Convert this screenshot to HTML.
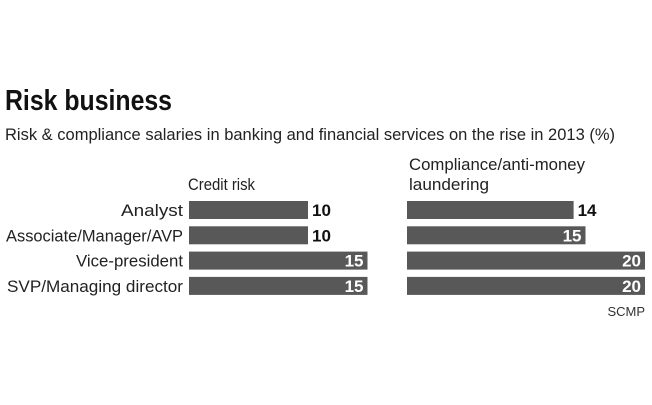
<!DOCTYPE html>
<html><head><meta charset="utf-8"><style>
html,body{margin:0;padding:0;background:#fff;}
svg{display:block;font-family:"Liberation Sans Narrow","Liberation Sans",sans-serif;}
</style></head><body>
<svg id="chart" width="652" height="405" viewBox="0 0 652 405">
<text x="5" y="110" font-size="29" font-weight="bold" fill="#111" textLength="167" lengthAdjust="spacingAndGlyphs">Risk business</text>
<text x="5" y="140" font-size="17" fill="#222" textLength="610" lengthAdjust="spacingAndGlyphs">Risk &amp; compliance salaries in banking and financial services on the rise in 2013 (%)</text>
<text x="188" y="190" font-size="17" fill="#222" textLength="67" lengthAdjust="spacingAndGlyphs">Credit risk</text>
<text x="409" y="170" font-size="17" fill="#222" textLength="176" lengthAdjust="spacingAndGlyphs">Compliance/anti-money</text>
<text x="409" y="190" font-size="17" fill="#222" textLength="80" lengthAdjust="spacingAndGlyphs">laundering</text>
<text x="645" y="316" font-size="13" fill="#333" text-anchor="end">SCMP</text>
<g id="marks"></g>
</svg>
<script>
const categories = ["Analyst", "Associate/Manager/AVP", "Vice-president", "SVP/Managing director"];
const labelWidths = [62, 177, 107, 176];
const creditRisk = [10, 10, 15, 15];
const compliance = [14, 15, 20, 20];
const NS = "http://www.w3.org/2000/svg";
const g = document.getElementById("marks");
const unit = 11.9;
const rowY = i => 201 + i * 25.3;
const barH = 18;
function mk(tag, attrs){ const e = document.createElementNS(NS, tag); for (const k in attrs) e.setAttribute(k, attrs[k]); return e; }
function drawSeries(vals, x0, name){
  vals.forEach((v, i) => {
    const w = v * unit;
    const r = mk("rect", {x: x0, y: rowY(i), width: w, height: barH, fill: "#585858"});
    
    
    g.appendChild(r);
    const inside = v >= 15 && w > 170;
    const t = mk("text", {x: inside ? x0 + w - 4 : x0 + w + 4, y: rowY(i) + 15, "font-size": 17, "font-weight": "bold", fill: inside ? "#fff" : "#111", "text-anchor": inside ? "end" : "start"});
    t.textContent = v;
    
    
    g.appendChild(t);
  });
}
categories.forEach((c, i) => {
  const t = mk("text", {x: 183, y: rowY(i) + 15, "font-size": 17, fill: "#222", "text-anchor": "end", textLength: labelWidths[i], lengthAdjust: "spacingAndGlyphs"});
  t.textContent = c;
  
  
  g.appendChild(t);
});
drawSeries(creditRisk, 189, "credit-risk");
drawSeries(compliance, 407, "compliance");
</script>
</body></html>
